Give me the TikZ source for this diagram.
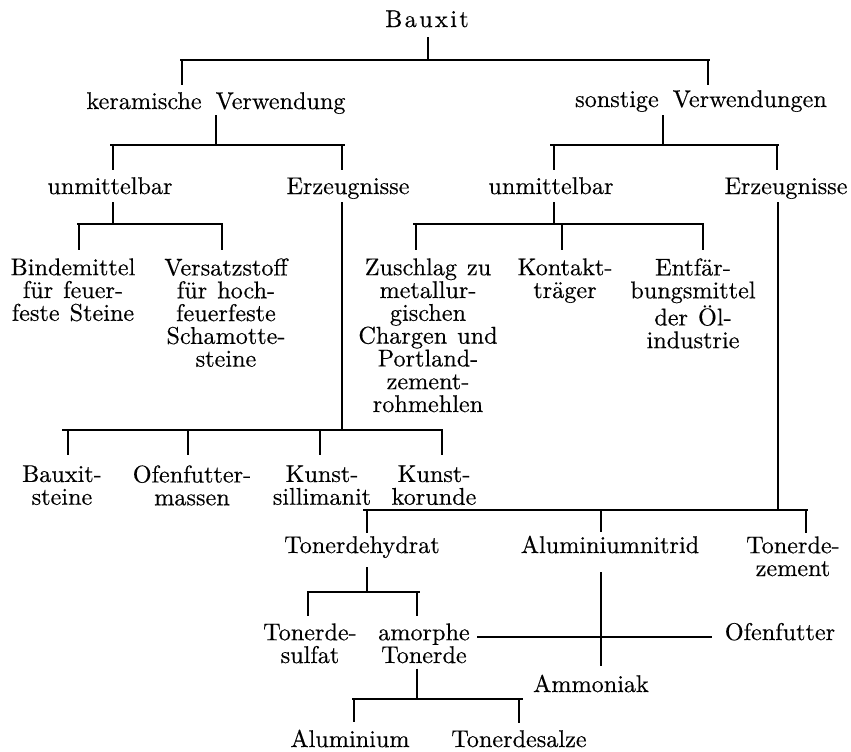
\documentclass[tikz,border=0pt]{standalone}
\usepackage{graphicx}
\usepackage{fontspec}
\setmainfont{lmroman10-regular.otf}[FakeBold=0.35]
\usetikzlibrary{calc}
% label font: slightly wider word spaces
\newcommand\lblfont{\fontsize{12.1}{11.4}\selectfont\spaceskip=5pt plus 1pt\relax}
\begin{document}
\begin{tikzpicture}[x=0.5pt,y=-0.5pt,
  lbl/.style={inner sep=0pt, anchor=base, font=\lblfont},
  stack/.style={lbl, anchor=north, align=center},
  rule/.style={line width=0.6pt, line cap=butt}]
\useasboundingbox (0,0) rectangle (851,751);

% ---------- labels ----------
\node[lbl] (bauxit) at (427,27) {B\kern1.2pt a\kern1.2pt u\kern1.2pt x\kern1.2pt i\kern1.2pt t};
\node[lbl] (ker) at (216,109) {keramische\hspace{7pt}Verwendung};
\node[lbl] (son) at (701,107) {sonstige\hspace{7pt}Verwendungen};
\node[lbl] (ku) at (110,194) {unmittelbar};
\node[lbl] (ke) at (348,194) {Erzeugnisse};
\node[lbl] (su) at (551,194) {unmittelbar};
\node[lbl] (se) at (786,194) {Erzeugnisse};

\node[stack] (bind) at (73,258) {Bindemittel\\für feuer-\\feste Steine};
\node[stack] (vers) at (226,258) {Versatzstoff\\für hoch-\\feuerfeste\\Schamotte-\\steine};
\node[stack] (zus) at (428,258) {Zuschlag zu\\metallur-\\gischen\\Chargen und\\Portland-\\zement-\\rohmehlen};
\node[stack] (kon) at (565,258) {Kontakt-\\träger};
\node[stack] (ent) at (693,258) {Entfär-\\bungsmittel\\der Öl-\\industrie};

\node[stack] (bst) at (62,465) {Bauxit-\\steine};
\node[stack] (ofm) at (192,465) {Ofenfutter-\\massen};
\node[stack] (ksi) at (322,465) {Kunst-\\sillimanit};
\node[stack] (kko) at (434,465) {Kunst-\\korunde};

\node[lbl] (thy) at (362,553) {Tonerdehydrat};
\node[lbl] (aln) at (610,553) {Aluminiumnitrid};
\node[stack] (tze) at (793,536) {Tonerde-\\zement};

\node[stack] (tsu) at (310,623) {Tonerde-\\sulfat};
\node[stack] (amo) at (424,623) {amorphe\\Tonerde};
\node[lbl] (ofu) at (780,640) {Ofenfutter};
\node[lbl] (amm) at (591,692) {Ammoniak};

\node[lbl] (alu) at (350,747) {Aluminium};
\node[lbl] (tsa) at (519,747) {Tonerdesalze};

% ---------- junctions on the bars ----------
\coordinate (j0) at (428,60);  \coordinate (j0l) at (180,60);  \coordinate (j0r) at (710,60);
\coordinate (j1) at (216,145); \coordinate (j1l) at (110,145); \coordinate (j1r) at (345,145);
\coordinate (j2) at (663,145); \coordinate (j2l) at (550,145); \coordinate (j2r) at (779,145);
\coordinate (j3) at (113,224); \coordinate (j3l) at (77,224);  \coordinate (j3r) at (223,224);
\coordinate (j4) at (342,430); \coordinate (j4l) at (62,430);  \coordinate (j4r) at (443,430);
\coordinate (j5) at (554,224); \coordinate (j5l) at (413,224); \coordinate (j5r) at (704,224);
\coordinate (j6) at (778,510); \coordinate (j6l) at (363,510); \coordinate (j6r) at (808,510);
\coordinate (j7) at (367,592); \coordinate (j7l) at (307,592); \coordinate (j7r) at (420,592);
\coordinate (jx) at (601,637);
\coordinate (j8) at (417,699); \coordinate (j8l) at (352,699); \coordinate (j8r) at (523,699);

% ---------- Bauxit ----------
\draw[rule] (bauxit.base -| j0) ++(0,10) -- (j0);
\draw[rule] (j0l) -- (j0r);
\draw[rule] (182,60) -- ($(182,0 |- ker.north)+(0,-7)$);
\draw[rule] (708,60) -- ($(708,0 |- son.north)+(0,-5)$);

% ---------- keramische Verwendung ----------
\draw[rule] (ker.base -| j1) ++(0,6) -- (j1);
\draw[rule] (j1l) -- (j1r);
\draw[rule] (113,145) -- ($(113,0 |- ku.north)+(0,-7)$);
\draw[rule] (342,145) -- ($(342,0 |- ke.north)+(0,-7)$);

% ---------- sonstige Verwendungen ----------
\draw[rule] (son.base -| j2) ++(0,8) -- (j2);
\draw[rule] (j2l) -- (j2r);
\draw[rule] (554,145) -- ($(554,0 |- su.north)+(0,-7)$);
\draw[rule] (777,145) -- ($(777,0 |- se.north)+(0,-7)$);

% ---------- unmittelbar (keramisch) ----------
\draw[rule] (ku.base -| j3) ++(0,8) -- (j3);
\draw[rule] (j3l) -- (j3r);
\draw[rule] (79,224) -- ($(79,0 |- bind.north)+(0,-8)$);
\draw[rule] (222,224) -- ($(222,0 |- vers.north)+(0,-8)$);

% ---------- Erzeugnisse (keramisch) ----------
\draw[rule] (ke.base -| j4) ++(0,8) -- (j4);
\draw[rule] (j4l) -- (j4r);
\draw[rule] (68,430) -- ($(68,0 |- bst.north)+(0,-10)$);
\draw[rule] (188,430) -- ($(188,0 |- ofm.north)+(0,-10)$);
\draw[rule] (320,430) -- ($(320,0 |- ksi.north)+(0,-10)$);
\draw[rule] (442,430) -- ($(442,0 |- kko.north)+(0,-10)$);

% ---------- unmittelbar (sonstige) ----------
\draw[rule] (su.base -| j5) ++(0,8) -- (j5);
\draw[rule] (j5l) -- (j5r);
\draw[rule] (416,224) -- ($(416,0 |- zus.north)+(0,-8)$);
\draw[rule] (562,224) -- ($(562,0 |- kon.north)+(0,-8)$);
\draw[rule] (703,224) -- ($(703,0 |- ent.north)+(0,-8)$);

% ---------- Erzeugnisse (sonstige) ----------
\draw[rule] (se.base -| j6) ++(0,8) -- (j6);
\draw[rule] (j6l) -- (j6r);
\draw[rule] (367,510) -- ($(367,0 |- thy.north)+(0,-3)$);
\draw[rule] (601,510) -- ($(601,0 |- aln.north)+(0,-3)$);
\draw[rule] (806,510) -- ($(806,0 |- tze.north)+(0,-3)$);

% ---------- Tonerdehydrat ----------
\draw[rule] (thy.base -| j7) ++(0,14) -- (j7);
\draw[rule] (j7l) -- (j7r);
\draw[rule] (308,592) -- ($(308,0 |- tsu.north)+(0,-7)$);
\draw[rule] (417,592) -- ($(417,0 |- amo.north)+(0,-7)$);

% ---------- Aluminiumnitrid / Ofenfutter cross ----------
\draw[rule] (aln.base -| jx) ++(0,19) -- ($(jx |- amm.north)+(0,-8)$);
\draw[rule] (amo.east |- jx) ++(7,0) -- ($(ofu.west |- jx)+(-12,0)$);

% ---------- amorphe Tonerde ----------
\draw[rule] (amo.south -| j8) ++(0,5) -- (j8);
\draw[rule] (j8l) -- (j8r);
\draw[rule] (354,699) -- ($(354,0 |- alu.north)+(0,-7)$);
\draw[rule] (519,699) -- ($(519,0 |- tsa.north)+(0,-7)$);
\end{tikzpicture}
\end{document}
